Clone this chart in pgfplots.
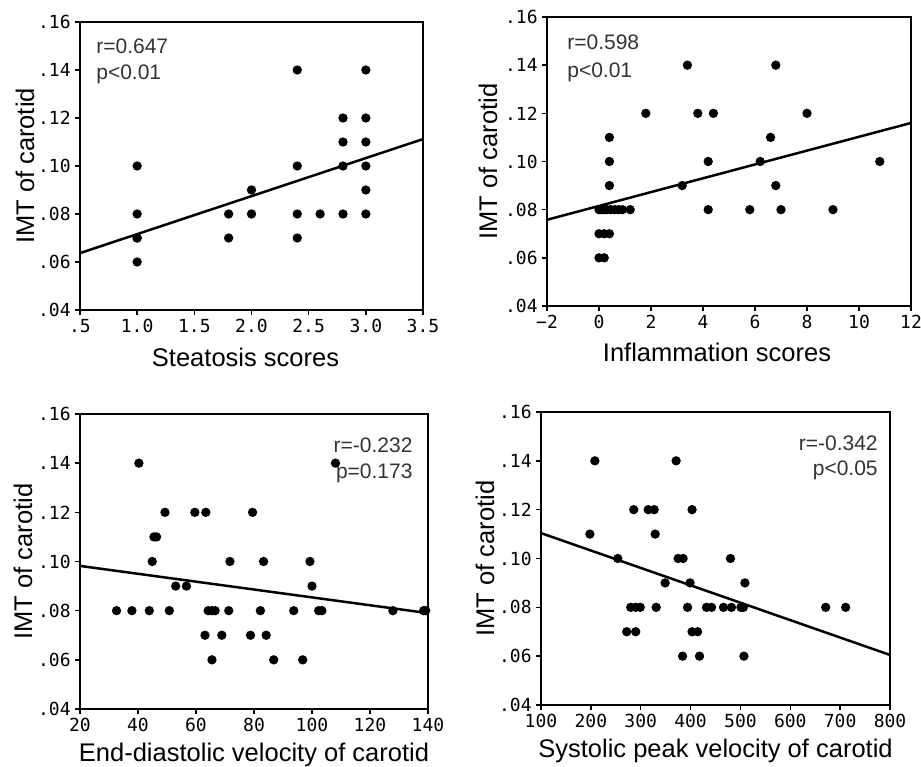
\documentclass[border=0pt]{standalone}
\usepackage{pgfplots}
\pgfplotsset{compat=1.18}
\usepackage{fontspec}
\setmainfont{Liberation Sans}
\newfontfamily\tickfont{DejaVu Sans Mono}

\pgfplotsset{
  imt/.style={
    scale only axis,
    line width=2pt,
    tick align=outside, tick pos=left,
    major tick length=5pt,
    every tick/.style={black, line width=1.5pt},
    ymin=0.04, ymax=0.16,
    ytick={0.04,0.06,0.08,0.10,0.12,0.14,0.16},
    yticklabels={.04,.06,.08,.10,.12,.14,.16},
    ticklabel style={font=\fontsize{18}{18}\tickfont},
    /pgf/number format/assume math mode=true,
    label style={font=\fontsize{25.5}{26}\selectfont},
    ylabel={IMT of carotid},
    ylabel style={at={(rel axis cs:0,0.5)}, anchor=center},
    xlabel style={at={(rel axis cs:0.5,0)}, anchor=center},
  },
  dots/.style={only marks, mark=*, mark size=3.6pt, black},
  fit/.style={no marks, black, line width=2.5pt},
}
\tikzset{note/.style={font=\fontsize{21}{21}\selectfont, text=black!80}}

\begin{document}
\begin{tikzpicture}
\useasboundingbox (0,0) rectangle (921pt,767pt);

% steatosis
\begin{axis}[imt, at={(80pt,457pt)}, width=343pt, height=288pt,
  xmin=0.5, xmax=3.5, xtick={0.5,1,1.5,2,2.5,3,3.5},
  xticklabels={.5,1.0,1.5,2.0,2.5,3.0,3.5},
  xlabel={Steatosis scores},
  ylabel style={yshift=55pt}, xlabel style={yshift=-47pt, xshift=-6pt}]
\addplot[dots] coordinates {
(1.0,0.10) (1.0,0.08) (1.0,0.07) (1.0,0.07) (1.0,0.06)
(1.8,0.08) (1.8,0.07) (2.0,0.09) (2.0,0.08)
(2.4,0.14) (2.4,0.10) (2.4,0.08) (2.4,0.07) (2.6,0.08)
(2.8,0.12) (2.8,0.11) (2.8,0.10) (2.8,0.08)
(3.0,0.14) (3.0,0.12) (3.0,0.11) (3.0,0.10) (3.0,0.09) (3.0,0.08)};
\addplot[fit] coordinates {(0.5,0.0637) (3.5,0.1112)};
\node[note, anchor=base west] at (rel axis cs:0.035,0.892) {r=0.647};
\node[note, anchor=base west] at (rel axis cs:0.035,0.799) {p<0.01};
\end{axis}

% inflammation
\begin{axis}[imt, at={(547pt,461pt)}, width=364pt, height=289pt,
  xmin=-2, xmax=12, xtick={-2,0,2,4,6,8,10,12},
  xticklabels={−2,0,2,4,6,8,10,12},
  xlabel={Inflammation scores},
  ylabel style={yshift=59pt}, xlabel style={yshift=-46pt, xshift=-12pt}]
\addplot[dots] coordinates {
(0,0.08) (0.1,0.08) (0.2,0.08) (0.3,0.08) (0.45,0.08) (0.6,0.08) (0.75,0.08) (0.9,0.08) (1.2,0.08)
(0,0.07) (0.2,0.07) (0.4,0.07) (0,0.06) (0.2,0.06)
(0.4,0.09) (0.4,0.10) (0.4,0.11)
(1.8,0.12) (3.8,0.12) (4.4,0.12) (8.0,0.12)
(3.4,0.14) (6.8,0.14) (3.2,0.09) (6.8,0.09)
(4.2,0.10) (6.2,0.10) (10.8,0.10) (6.6,0.11)
(4.2,0.08) (5.8,0.08) (7.0,0.08) (9.0,0.08)};
\addplot[fit] coordinates {(-2,0.0758) (12,0.116)};
\node[note, anchor=base west] at (rel axis cs:0.044,0.886) {r=0.598};
\node[note, anchor=base west] at (rel axis cs:0.044,0.792) {p<0.01};
\end{axis}

% end-diastolic velocity
\begin{axis}[imt, at={(80pt,58pt)}, width=348pt, height=295pt,
  xmin=20, xmax=140, xtick={20,40,60,80,100,120,140},
  xticklabels={20,40,60,80,100,120,140},
  xlabel={End-diastolic velocity of carotid},
  ylabel style={yshift=57pt}, xlabel style={yshift=-46pt}]
\addplot[dots] coordinates {
(40.3,0.14) (108.1,0.14)
(49.3,0.12) (59.6,0.12) (63.4,0.12) (79.5,0.12)
(45.5,0.11) (46.4,0.11)
(44.9,0.10) (71.7,0.10) (83.3,0.10) (99.3,0.10)
(53.0,0.09) (56.7,0.09) (100.0,0.09)
(32.6,0.08) (37.9,0.08) (43.9,0.08) (50.8,0.08) (64.2,0.08) (65.5,0.08) (66.6,0.08)
(71.3,0.08) (82.2,0.08) (93.7,0.08) (102.3,0.08) (103.4,0.08) (127.9,0.08) (138.5,0.08) (139.2,0.08)
(63.1,0.07) (68.9,0.07) (78.8,0.07) (84.2,0.07)
(65.5,0.06) (86.8,0.06) (96.8,0.06)};
\addplot[fit] coordinates {(20,0.0982) (140,0.079)};
\node[note, anchor=base east] at (rel axis cs:0.968,0.868) {r=-0.232};
\node[note, anchor=base east] at (rel axis cs:0.968,0.780) {p=0.173};
\end{axis}

% systolic peak velocity
\begin{axis}[imt, at={(541pt,62pt)}, width=349pt, height=293pt,
  xmin=100, xmax=800, xtick={100,200,300,400,500,600,700,800},
  xticklabels={100,200,300,400,500,600,700,800},
  xlabel={Systolic peak velocity of carotid},
  ylabel style={yshift=56pt}, xlabel style={yshift=-46pt}]
\addplot[dots] coordinates {
(208,0.14) (371,0.14)
(286,0.12) (315,0.12) (327,0.12) (403,0.12)
(198,0.11) (329,0.11)
(254,0.10) (375,0.10) (385,0.10) (480,0.10)
(349,0.09) (399,0.09) (509,0.09)
(280,0.08) (290,0.08) (299,0.08) (331,0.08) (394,0.08) (432,0.08) (442,0.08)
(466,0.08) (482,0.08) (501,0.08) (506,0.08) (671,0.08) (711,0.08)
(272,0.07) (290,0.07) (403,0.07) (414,0.07)
(384,0.06) (418,0.06) (507,0.06)};
\addplot[fit] coordinates {(100,0.1104) (800,0.0605)};
\node[note, anchor=base east] at (rel axis cs:0.977,0.870) {r=-0.342};
\node[note, anchor=base east] at (rel axis cs:0.977,0.782) {p<0.05};
\end{axis}
\end{tikzpicture}
\end{document}
